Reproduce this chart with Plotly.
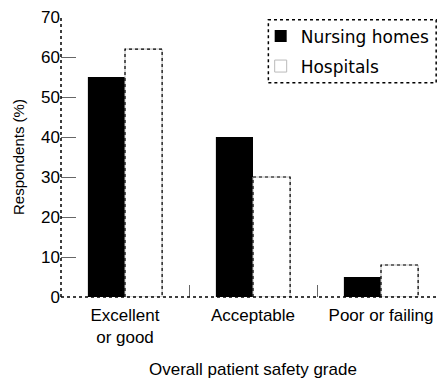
import plotly.graph_objects as go

categories = ["Excellent<br>or good", "Acceptable", "Poor or failing"]
nursing_homes = [55, 40, 5]
hospitals = [62, 30, 8]
series_names = ["Nursing homes", "Hospitals"]
y_ticks = [0, 10, 20, 30, 40, 50, 60, 70]

FONT = "Liberation Sans"
W = 0.29
xs = list(range(len(categories)))

fig = go.Figure()
fig.add_trace(go.Bar(x=xs, y=nursing_homes, name=series_names[0], width=W, offset=-W,
                     legendgroup="a",
                     marker=dict(color="black", line=dict(width=0))))
fig.add_trace(go.Bar(x=xs, y=hospitals, name=series_names[1], width=W, offset=0,
                     legendgroup="b",
                     marker=dict(color="white", line=dict(width=1, color="#bbbbbb"))))

# dotted outline for hospital bars (derived from data + bar geometry)
for i, v in zip(xs, hospitals):
    fig.add_trace(go.Scatter(x=[i, i, i + W, i + W], y=[0, v, v, 0], mode="lines",
                             line=dict(color="black", width=1.2, dash="dot"),
                             showlegend=False, hoverinfo="skip"))

fig.update_layout(
    width=437, height=377,
    margin=dict(l=53, r=0, t=9, b=88),
    paper_bgcolor="white", plot_bgcolor="white",
    font=dict(family=FONT, size=17, color="black"),
    showlegend=True,
    legend=dict(x=0.52, y=0.995, xanchor="left", yanchor="top",
                bgcolor="rgba(0,0,0,0)", borderwidth=0,
                font=dict(family="DejaVu Sans", size=17), tracegroupgap=5, itemwidth=30),
    xaxis=dict(range=[-0.5, 2.5], tickvals=xs, ticktext=categories, ticks="",
               showgrid=False, zeroline=False, showline=False, automargin=False,
               ticklabelstandoff=6, ticklabeloverflow="allow",
               minor=dict(tickvals=[0.5, 1.5], ticks="inside", ticklen=12,
                          tickcolor="#666", tickwidth=1)),
    yaxis=dict(range=[0, 70.01], tickvals=y_ticks, ticks="inside", ticklen=15,
               tickcolor="#666", tickwidth=1, showgrid=False, zeroline=False,
               showline=False, automargin=False, tickfont=dict(size=17),
               ticklabeloverflow="allow"),
    annotations=[
        dict(text="Respondents (%)", xref="paper", yref="paper", x=-0.112, y=0.5,
             xanchor="center", yanchor="middle", textangle=-90, showarrow=False,
             font=dict(size=15)),
        dict(text="Overall patient safety grade", xref="paper", yref="paper",
             x=0.5, y=-0.26, xanchor="center", yanchor="middle", showarrow=False,
             font=dict(size=17)),
    ],
    shapes=[
        dict(type="line", xref="paper", yref="paper", x0=0, x1=0, y0=0, y1=1,
             line=dict(color="black", width=1.5, dash="dot")),
        dict(type="line", xref="paper", yref="paper", x0=0, x1=1, y0=0, y1=0,
             line=dict(color="black", width=1.5, dash="dot")),
        dict(type="rect", xref="paper", yref="paper", x0=0.54, x1=0.977, y0=0.765, y1=0.99,
             line=dict(color="black", width=1.5, dash="dot")),
    ],
)

fig.write_html("out.html")
